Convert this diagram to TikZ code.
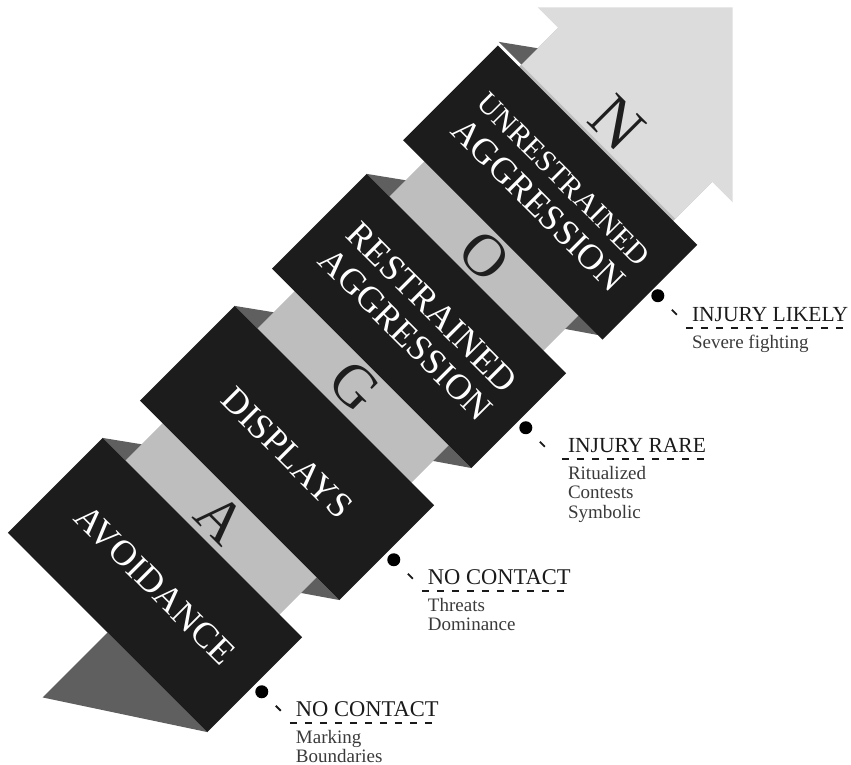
\documentclass[tikz,border=0pt]{standalone}
\usepackage{fontspec}
\setmainfont{Liberation Serif}
\usetikzlibrary{calc}
\definecolor{panelblack}{HTML}{1C1C1C}
\definecolor{foldgray}{HTML}{5F5F5F}
\definecolor{gapgray}{HTML}{BEBEBE}
\definecolor{headgray}{HTML}{DCDCDC}
\definecolor{letterdark}{HTML}{1E1E1E}
\definecolor{titlecol}{HTML}{1A1A1A}
\definecolor{subcol}{HTML}{3A3A3A}
\begin{document}
\begin{tikzpicture}[x=1pt,y=1pt,
  panel/.style={fill=panelblack, draw=none, rotate=-45, minimum width=282pt, minimum height=134pt, inner sep=0pt, text=white, align=center, font=\fontsize{36}{38}\selectfont},
  gapletter/.style={rotate=-45, text=letterdark, inner sep=0pt, font=\fontsize{60}{60}\selectfont},
  dotmark/.style={circle, fill=black, minimum size=13pt, inner sep=0pt},
  title/.style={anchor=base west, inner sep=0pt, text=titlecol, font=\fontsize{22.5}{22.5}\selectfont},
  sub/.style={anchor=base west, inner sep=0pt, text=subcol, font=\fontsize{19}{19.5}\selectfont},
  leader/.style={draw=titlecol, line width=1.8pt, dash pattern=on 7pt off 8pt},
  tick/.style={draw=titlecol, line width=1.8pt}]
\useasboundingbox (0,0) rectangle (851,764);
\begin{scope}[shift={(155,179)}, rotate=45]
  % shaft
  \fill[gapgray] (-67,-109) rectangle (679,109);
  % head
  \fill[headgray] (627,-109) -- (679,-109) -- (679,-138) -- (817,0) -- (679,138) -- (679,109) -- (627,109) -- cycle;
  % tail
  \fill[foldgray] (-159,0) -- (-67,0) -- (-67,-141) -- cycle;
  % fold triangles
  \foreach \k in {0,1,2,3}{
    \fill[foldgray] ({186.7*\k+67},141) -- ({186.7*\k+67},109) -- ({186.7*\k+90},109) -- cycle;
  }
  \foreach \k in {1,2,3}{
    \fill[foldgray] ({186.7*\k-67},-141) -- ({186.7*\k-67},-109) -- ({186.7*\k-89},-109) -- cycle;
  }
  % panels
  \node[panel] (p0) at (0,0) {AVOIDANCE};
  \node[panel] (p1) at (186.7,0) {DISPLAYS};
  \node[panel] (p2) at (373.4,0) {RESTRAINED\\AGGRESSION};
  \node[panel] (p3) at (557,-2) {\fontsize{30}{38}\selectfont UNRESTRAINED\\\fontsize{36}{38}\selectfont AGGRESSION};
  % letters
  \node[gapletter] (la) at (93.5,0) {A};
  \node[gapletter] (lg) at (282,0) {G};
  \node[gapletter] (lo) at (466,0) {O};
  \node[gapletter, font=\fontsize{65}{65}\selectfont] (ln) at (653,0) {N};
  % dots
  \node[dotmark] (d0) at (0,-151) {};
  \node[dotmark] (d1) at (186.7,-151) {};
  \node[dotmark] (d2) at (373.4,-151) {};
  \node[dotmark] (d3) at (560.1,-151) {};
\end{scope}
% labels
\node[title] (t0) at ([shift={(34,-25)}]d0.center) {NO CONTACT};
\node[title] (t1) at ([shift={(34,-25)}]d1.center) {NO CONTACT};
\node[title, font=\fontsize{21.5}{21.5}\selectfont] (t2) at ([shift={(42,-25)}]d2.center) {INJURY RARE};
\node[title, font=\fontsize{21.5}{21.5}\selectfont] (t3) at ([shift={(34,-26)}]d3.center) {INJURY LIKELY};
\foreach \i/\j/\txt in {0/0/Marking, 0/1/Boundaries, 1/0/Threats, 1/1/Dominance,
    2/0/Ritualized, 2/1/Contests, 2/2/Symbolic, 3/0/Severe fighting}{
  \node[sub] (s\i\j) at ([shift={(0,{-26.5-19.5*\j})}]t\i.base west) {\txt};
}
\foreach \i in {0,1,2,3}{
  \draw[tick] ([shift={(14,-14)}]d\i.center) -- ([shift={(19,-19)}]d\i.center);
  \draw[leader] ([shift={(-6,-6)}]t\i.base west) -- ([shift={(-2,-6)}]t\i.base east);
}
\end{tikzpicture}
\end{document}
